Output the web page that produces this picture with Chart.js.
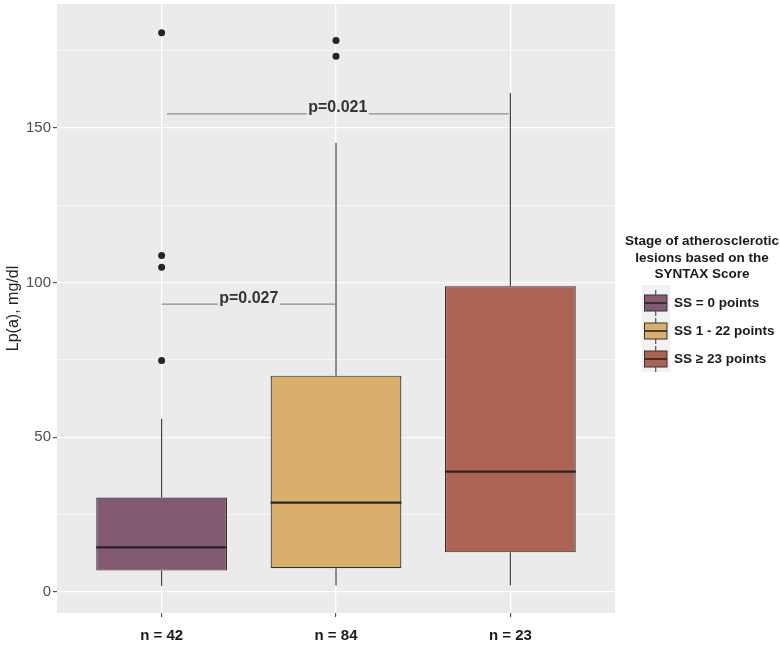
<!DOCTYPE html>
<html>
<head>
<meta charset="utf-8">
<script src="https://cdn.jsdelivr.net/npm/chart.js@4/dist/chart.umd.min.js"></script>
<style>
html,body{margin:0;padding:0;background:#fff;}
canvas{display:block;}
</style>
</head>
<body>
<canvas id="c" width="780" height="645"></canvas>
<script>
// ---- data ----
const categories = ['n = 42', 'n = 84', 'n = 23'];
const groupNames = ['SS = 0 points', 'SS 1 - 22 points', 'SS \u2265 23 points'];
const whiskerLow = [2.0, 2.1, 2.1];
const q1 = [6.9, 7.7, 12.8];
const median = [14.4, 28.9, 38.9];
const q3 = [30.5, 69.9, 98.8];
const whiskerHigh = [56.0, 145.2, 161.2];
const outliers = [[74.8, 104.9, 108.7, 180.7], [173.1, 178.2], []];
const yTicks = [0, 50, 100, 150];
const yMinorTicks = [25, 75, 125, 175];
const pFrom = [1, 1.03];
const pTo = [2, 2.99];
const pLevel = [93.0, 154.5];
const pLabels = ['p=0.027', 'p=0.021'];
const legendTitle = ['Stage of atherosclerotic', 'lesions based on the', 'SYNTAX Score'];
const yTitle = 'Lp(a), mg/dl';

// ---- styles ----
const fills = ['#845A73', '#DAAE6B', '#AD6354'];
const BOX_W = 0.75;
const FONT = '"Liberation Sans", Arial, sans-serif';

// ---- derived datasets ----
const boxData = categories.map((c, i) => ({x: i + 1, y: [q1[i], q3[i]]}));
const whiskerData = [];
categories.forEach((c, i) => {
  const x = i + 1;
  whiskerData.push({x, y: whiskerLow[i]}, {x, y: q1[i]}, {x, y: null},
                   {x, y: q3[i]}, {x, y: whiskerHigh[i]}, {x, y: null});
});
const medianData = [];
categories.forEach((c, i) => {
  medianData.push({x: i + 1 - BOX_W / 2, y: median[i]}, {x: i + 1 + BOX_W / 2, y: median[i]}, {x: i + 1, y: null});
});
const outlierData = [];
outliers.forEach((arr, i) => arr.forEach(v => outlierData.push({x: i + 1, y: v})));

const bgPlugin = {
  id: 'bg',
  beforeDraw(chart) {
    const {ctx, chartArea: a} = chart;
    ctx.save();
    ctx.fillStyle = '#ffffff';
    ctx.fillRect(0, 0, chart.width, chart.height);
    ctx.fillStyle = '#EBEBEB';
    ctx.fillRect(a.left, a.top, a.right - a.left, a.bottom - a.top);
    ctx.restore();
  }
};

const pPlugin = {
  id: 'pvals',
  afterDatasetsDraw(chart) {
    const {ctx, scales: {x, y}} = chart;
    ctx.save();
    ctx.font = 'bold 16px ' + FONT;
    pLabels.forEach((lab, i) => {
      const x1 = x.getPixelForValue(pFrom[i]);
      const x2 = x.getPixelForValue(pTo[i]);
      const py = y.getPixelForValue(pLevel[i]);
      const cx = (x1 + x2) / 2;
      const w = ctx.measureText(lab).width;
      const tl = cx - w / 2, tr = cx + w / 2;
      ctx.strokeStyle = '#8c8c8c';
      ctx.lineWidth = 1.4;
      ctx.beginPath();
      ctx.moveTo(x1, py); ctx.lineTo(tl - 1.5, py);
      ctx.moveTo(tr + 1.5, py); ctx.lineTo(x2, py);
      ctx.stroke();
      ctx.fillStyle = '#333333';
      ctx.textAlign = 'center';
      ctx.textBaseline = 'alphabetic';
      ctx.fillText(lab, cx, py - 1.5);
    });
    ctx.restore();
  }
};

const legendPlugin = {
  id: 'ggLegend',
  afterDraw(chart) {
    const ctx = chart.ctx;
    ctx.save();
    ctx.font = 'bold 13.5px ' + FONT;
    ctx.fillStyle = '#1a1a1a';
    ctx.textAlign = 'center';
    ctx.textBaseline = 'alphabetic';
    const cx = 702;
    legendTitle.forEach((t, i) => ctx.fillText(t, cx, 245 + i * 16.5));
    const kx = 642, kw = 28, ky = 285, kh = 28;
    ctx.fillStyle = '#F2F2F2';
    ctx.fillRect(kx, ky, kw, kh * groupNames.length + 3);
    groupNames.forEach((name, i) => {
      const cy = 303 + i * 28;
      const bx = 644.5, bw = 22.5, bh = 16;
      ctx.strokeStyle = '#333';
      ctx.lineWidth = 1;
      ctx.beginPath();
      ctx.moveTo(bx + bw / 2, cy - 13); ctx.lineTo(bx + bw / 2, cy + 13);
      ctx.stroke();
      ctx.fillStyle = fills[i];
      ctx.fillRect(bx, cy - bh / 2, bw, bh);
      ctx.strokeStyle = '#333333';
      ctx.lineWidth = 1;
      ctx.strokeRect(bx, cy - bh / 2, bw, bh);
      ctx.strokeStyle = '#262626';
      ctx.lineWidth = 1.6;
      ctx.beginPath();
      ctx.moveTo(bx, cy); ctx.lineTo(bx + bw, cy);
      ctx.stroke();
      ctx.fillStyle = '#1a1a1a';
      ctx.textAlign = 'left';
      ctx.textBaseline = 'middle';
      ctx.fillText(name, 674, cy + 0.5);
    });
    ctx.restore();
  }
};

new Chart(document.getElementById('c'), {
  type: 'bar',
  data: {
    datasets: [
      {type: 'line', data: whiskerData, borderColor: '#333333', borderWidth: 1.1, pointRadius: 0, spanGaps: false, order: 4},
      {type: 'bar', data: boxData, backgroundColor: fills, borderColor: '#333333', borderWidth: 1.2,
       borderSkipped: false, barPercentage: BOX_W, categoryPercentage: 1, grouped: false, order: 3},
      {type: 'line', data: medianData, borderColor: '#262626', borderWidth: 2.3, pointRadius: 0, spanGaps: false, order: 2},
      {type: 'scatter', data: outlierData, backgroundColor: '#262626', borderWidth: 0, pointRadius: 3.5, order: 1}
    ]
  },
  options: {
    responsive: false,
    animation: false,
    devicePixelRatio: 1,
    layout: {padding: {left: 0, top: 3, right: 165, bottom: 0}},
    plugins: {legend: {display: false}, tooltip: {enabled: false}},
    scales: {
      x: {
        type: 'linear', min: 0.4, max: 3.6, offset: false,
        afterBuildTicks(s) { s.ticks = categories.map((c, i) => ({value: i + 1})); },
        afterFit(s) { s.height = 32; s.paddingLeft = 0; s.paddingRight = 0; },
        grid: {color: '#ffffff', lineWidth: 1.3, offset: false, tickColor: '#333333', tickLength: 4, tickWidth: 1},
        border: {display: false},
        ticks: {
          autoSkip: false, maxRotation: 0, padding: 10,
          color: '#1a1a1a', font: {family: FONT, size: 15, weight: 'bold'},
          callback: (v) => categories[Math.round(v) - 1] || ''
        }
      },
      y: {
        type: 'linear', min: -6.8, max: 190,
        afterBuildTicks(s) { s.ticks = yTicks.concat(yMinorTicks).sort((a, b) => a - b).map(v => ({value: v})); },
        afterFit(s) { s.width = 57; s.paddingTop = 0; s.paddingBottom = 0; },
        grid: {
          color: '#ffffff',
          lineWidth: (c) => yTicks.includes(c.tick && c.tick.value) ? 1.3 : 0.6,
          tickColor: (c) => yTicks.includes(c.tick && c.tick.value) ? '#333333' : 'rgba(0,0,0,0)',
          tickLength: 4, tickWidth: 1
        },
        border: {display: false},
        ticks: {
          autoSkip: false, padding: 2,
          color: '#4D4D4D', font: {family: FONT, size: 15},
          callback: (v) => yTicks.includes(v) ? String(v) : ''
        },
        title: {display: true, text: yTitle, color: '#222222', font: {family: FONT, size: 16}, padding: {top: 4, bottom: 0}}
      }
    }
  },
  plugins: [bgPlugin, pPlugin, legendPlugin]
});
</script>
</body>
</html>
